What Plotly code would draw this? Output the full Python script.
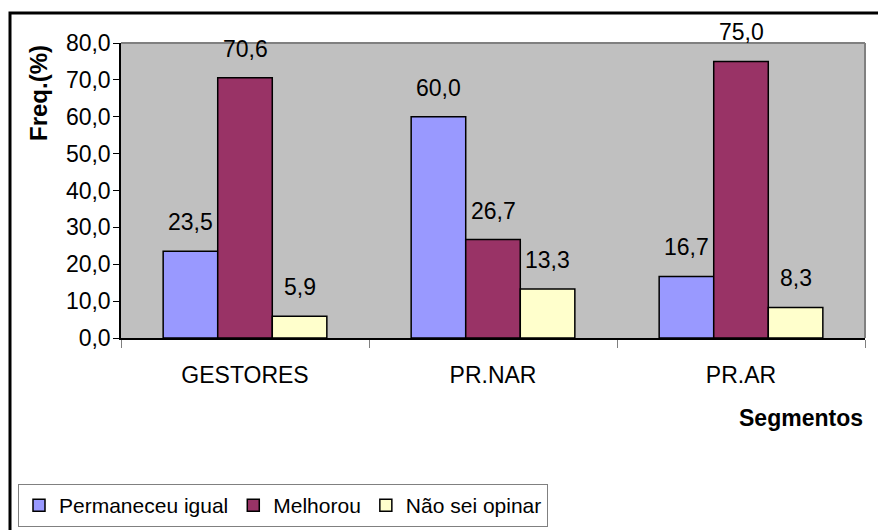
import plotly.graph_objects as go

categories = ["GESTORES", "PR.NAR", "PR.AR"]
series_names = ["Permaneceu igual", "Melhorou", "Não sei opinar"]
permaneceu = [23.5, 60.0, 16.7]
melhorou = [70.6, 26.7, 75.0]
nao_sei = [5.9, 13.3, 8.3]
y_ticks = [0, 10, 20, 30, 40, 50, 60, 70, 80]

colors = ["#9999FF", "#993366", "#FFFFCC"]
values = [permaneceu, melhorou, nao_sei]

FONT = "Liberation Sans, Arial, sans-serif"
W, H = 878, 530
ML, MR, MT, MB = 121, 13, 43, 192
PW = W - ML - MR
PH = H - MT - MB
BARGAP = 0.34

fig = go.Figure()
for name, vals, col in zip(series_names, values, colors):
    fig.add_trace(go.Bar(
        x=categories, y=vals, name=name,
        marker=dict(color=col, line=dict(color="black", width=1.5)),
        hoverinfo="x+y",
    ))

# data labels above bars
cat_px = PW / len(categories)
bar_px = cat_px * (1 - BARGAP) / len(series_names)
annotations = []
for i, vals in enumerate(values):
    off = (i - (len(series_names) - 1) / 2) * bar_px
    for c, v in zip(categories, vals):
        annotations.append(dict(
            x=c, y=v, xref="x", yref="y", text=f"{v:.1f}".replace(".", ","),
            showarrow=False, xshift=off, yshift=29, yanchor="middle",
            font=dict(family=FONT, size=23, color="black"),
        ))

annotations.append(dict(
    x=1.0, y=-(418 - (MT + PH)) / PH,
    xref="paper", yref="paper", text="<b>Segmentos</b>", showarrow=False,
    xanchor="right", yanchor="middle",
    font=dict(family=FONT, size=23, color="black"),
))
annotations.append(dict(
    x=-(ML - 38) / PW, y=1 - (93 - MT) / PH,
    xref="paper", yref="paper", text="<b>Freq.(%)</b>", showarrow=False,
    textangle=-90, xanchor="center", yanchor="middle",
    font=dict(family=FONT, size=24, color="black"),
))

shapes = [
    # outer chart border
    dict(type="rect", xref="paper", yref="paper",
         x0=-(ML - 10) / PW, x1=1.1, y0=-1.0, y1=1 + (MT - 13) / PH,
         line=dict(color="black", width=3), layer="above"),
    # plot area top and right border
    dict(type="line", xref="paper", yref="paper", x0=0, x1=1, y0=1, y1=1,
         line=dict(color="#808080", width=2), layer="above"),
    dict(type="line", xref="paper", yref="paper", x0=1, x1=1, y0=0, y1=1,
         line=dict(color="#808080", width=2), layer="above"),
]

fig.update_layout(
    width=W, height=H,
    margin=dict(l=ML, r=MR, t=MT, b=MB, autoexpand=False),
    paper_bgcolor="white", plot_bgcolor="#C0C0C0",
    barmode="group", bargap=BARGAP, bargroupgap=0,
    separators=",.",
    font=dict(family=FONT, size=23, color="black"),
    showlegend=True,
    legend=dict(
        orientation="h", x=-(ML - 18) / PW, xanchor="left",
        y=-(484 - (MT + PH)) / PH, yanchor="top",
        bordercolor="#808080", borderwidth=1, bgcolor="white",
        font=dict(family=FONT, size=21, color="black"),
        itemwidth=30, traceorder="normal",
    ),
    annotations=annotations,
    shapes=shapes,
    xaxis=dict(
        showline=True, linecolor="black", linewidth=2,
        ticks="outside", tickson="boundaries", ticklen=8, tickcolor="#808080",
        tickwidth=1, ticklabelstandoff=15,
        tickfont=dict(family=FONT, size=23, color="black"),
        showgrid=False,
    ),
    yaxis=dict(
        range=[0, 80], tickvals=y_ticks, tickformat=".1f",
        showline=True, linecolor="black", linewidth=1.5,
        ticks="outside", ticklen=6, tickcolor="black", tickwidth=1,
        ticklabelstandoff=-2,
        tickfont=dict(family=FONT, size=23, color="black"),
        showgrid=False, zeroline=False,
    ),
)

fig.write_html("out.html", config={"displayModeBar": False},
               post_script="document.body.style.margin='0';")
